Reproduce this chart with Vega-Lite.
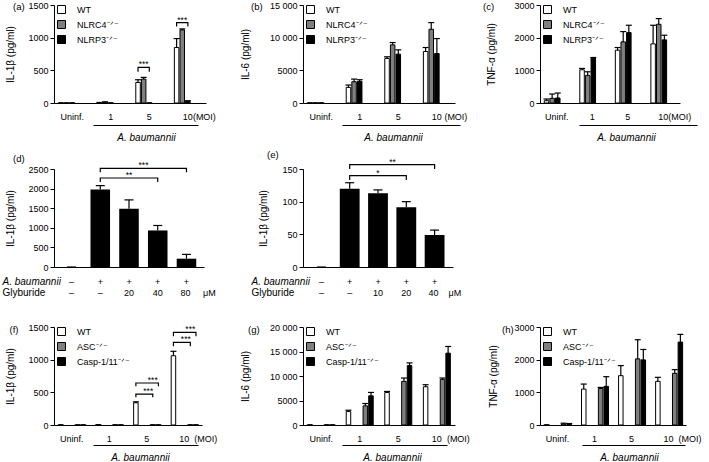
{
  "$schema": "https://vega.github.io/schema/vega-lite/v6.json",
  "background": "white",
  "padding": {"left": 2, "top": 1, "right": 0, "bottom": 0},
  "columns": 3,
  "bounds": "flush",
  "spacing": {"row": 60, "column": 60},
  "resolve": {"scale": {"fill": "independent"}, "legend": {"fill": "independent"}},
  "config": {
    "font": "Liberation Sans",
    "view": {"stroke": null},
    "axis": {"labelFontSize": 9, "labelColor": "black", "titleColor": "black", "titleFontSize": 10, "titleFontWeight": "normal", "domainColor": "black", "domainWidth": 1, "tickColor": "black", "tickWidth": 1, "grid": false},
    "axisY": {"labelOverlap": false, "tickCount": 10},
    "legend": {"symbolType": "square", "symbolSize": 64, "symbolStrokeColor": "black", "symbolStrokeWidth": 1, "labelFontSize": 9, "labelColor": "black", "labelOffset": 11, "rowPadding": 2, "padding": 0},
    "title": {"anchor": "start", "frame": "group", "align": "right", "baseline": "middle", "offset": 0, "fontSize": 9.5, "fontWeight": "normal", "color": "black"}
  },
  "datasets": {
    "a": [
      {"dose": "Uninf.", "genotype": "WT", "mean": 0, "upper": 0},
      {"dose": "Uninf.", "genotype": "NLRC4⁻ᐟ⁻", "mean": 0, "upper": 0},
      {"dose": "Uninf.", "genotype": "NLRP3⁻ᐟ⁻", "mean": 0, "upper": 0},
      {"dose": "1", "genotype": "WT", "mean": 5, "upper": 8},
      {"dose": "1", "genotype": "NLRC4⁻ᐟ⁻", "mean": 10, "upper": 18},
      {"dose": "1", "genotype": "NLRP3⁻ᐟ⁻", "mean": 0, "upper": 0},
      {"dose": "5", "genotype": "WT", "mean": 315, "upper": 356},
      {"dose": "5", "genotype": "NLRC4⁻ᐟ⁻", "mean": 366, "upper": 392},
      {"dose": "5", "genotype": "NLRP3⁻ᐟ⁻", "mean": 0, "upper": 0},
      {"dose": "10", "genotype": "WT", "mean": 849, "upper": 986},
      {"dose": "10", "genotype": "NLRC4⁻ᐟ⁻", "mean": 1119, "upper": 1134},
      {"dose": "10", "genotype": "NLRP3⁻ᐟ⁻", "mean": 25, "upper": 35}
    ],
    "a_br": [
      {"id": 1, "dose": "5", "genotype": "WT", "y": 478, "ord": 1},
      {"id": 1, "dose": "5", "genotype": "WT", "y": 546, "ord": 2},
      {"id": 1, "dose": "5", "genotype": "NLRP3⁻ᐟ⁻", "y": 546, "ord": 3},
      {"id": 1, "dose": "5", "genotype": "NLRP3⁻ᐟ⁻", "y": 478, "ord": 4},
      {"id": 2, "dose": "10", "genotype": "WT", "y": 1170, "ord": 1},
      {"id": 2, "dose": "10", "genotype": "WT", "y": 1230, "ord": 2},
      {"id": 2, "dose": "10", "genotype": "NLRP3⁻ᐟ⁻", "y": 1230, "ord": 3},
      {"id": 2, "dose": "10", "genotype": "NLRP3⁻ᐟ⁻", "y": 1170, "ord": 4}
    ],
    "a_star": [
      {"dose": "5", "genotype": "NLRC4⁻ᐟ⁻", "y": 546, "label": "***"},
      {"dose": "10", "genotype": "NLRC4⁻ᐟ⁻", "y": 1230, "label": "***"}
    ],
    "b": [
      {"dose": "Uninf.", "genotype": "WT", "mean": 0, "upper": 0},
      {"dose": "Uninf.", "genotype": "NLRC4⁻ᐟ⁻", "mean": 0, "upper": 0},
      {"dose": "Uninf.", "genotype": "NLRP3⁻ᐟ⁻", "mean": 0, "upper": 0},
      {"dose": "1", "genotype": "WT", "mean": 2390, "upper": 2746},
      {"dose": "1", "genotype": "NLRC4⁻ᐟ⁻", "mean": 3254, "upper": 3661},
      {"dose": "1", "genotype": "NLRP3⁻ᐟ⁻", "mean": 3305, "upper": 3560},
      {"dose": "5", "genotype": "WT", "mean": 6814, "upper": 7068},
      {"dose": "5", "genotype": "NLRC4⁻ᐟ⁻", "mean": 8898, "upper": 9254},
      {"dose": "5", "genotype": "NLRP3⁻ᐟ⁻", "mean": 7475, "upper": 8136},
      {"dose": "10", "genotype": "WT", "mean": 7881, "upper": 8492},
      {"dose": "10", "genotype": "NLRC4⁻ᐟ⁻", "mean": 11288, "upper": 12305},
      {"dose": "10", "genotype": "NLRP3⁻ᐟ⁻", "mean": 7576, "upper": 9864}
    ],
    "c": [
      {"dose": "Uninf.", "genotype": "WT", "mean": 71, "upper": 122},
      {"dose": "Uninf.", "genotype": "NLRC4⁻ᐟ⁻", "mean": 142, "upper": 275},
      {"dose": "Uninf.", "genotype": "NLRP3⁻ᐟ⁻", "mean": 153, "upper": 305},
      {"dose": "1", "genotype": "WT", "mean": 1017, "upper": 1058},
      {"dose": "1", "genotype": "NLRC4⁻ᐟ⁻", "mean": 844, "upper": 956},
      {"dose": "1", "genotype": "NLRP3⁻ᐟ⁻", "mean": 1373, "upper": 1393},
      {"dose": "5", "genotype": "WT", "mean": 1617, "upper": 1698},
      {"dose": "5", "genotype": "NLRC4⁻ᐟ⁻", "mean": 1871, "upper": 2186},
      {"dose": "5", "genotype": "NLRP3⁻ᐟ⁻", "mean": 2156, "upper": 2380},
      {"dose": "10", "genotype": "WT", "mean": 1810, "upper": 2380},
      {"dose": "10", "genotype": "NLRC4⁻ᐟ⁻", "mean": 2410, "upper": 2583},
      {"dose": "10", "genotype": "NLRP3⁻ᐟ⁻", "mean": 1932, "upper": 2075}
    ],
    "d": [
      {"treat": "ctrl", "mean": 0, "upper": 0},
      {"treat": "0", "mean": 1975, "upper": 2076},
      {"treat": "20", "mean": 1483, "upper": 1712},
      {"treat": "40", "mean": 932, "upper": 1059},
      {"treat": "80", "mean": 212, "upper": 322}
    ],
    "d_br": [
      {"id": 1, "treat": "0", "y": 2416, "ord": 1},
      {"id": 1, "treat": "0", "y": 2518, "ord": 2},
      {"id": 1, "treat": "80", "y": 2518, "ord": 3},
      {"id": 1, "treat": "80", "y": 2416, "ord": 4},
      {"id": 2, "treat": "0", "y": 2168, "ord": 1},
      {"id": 2, "treat": "0", "y": 2270, "ord": 2},
      {"id": 2, "treat": "40", "y": 2270, "ord": 3},
      {"id": 2, "treat": "40", "y": 2168, "ord": 4}
    ],
    "d_s1": [{"treat": "20", "y": 2270, "label": "**"}],
    "d_s2": [{"treat": "20", "y": 2518, "label": "***"}],
    "e": [
      {"treat": "ctrl", "mean": 0, "upper": 0},
      {"treat": "0", "mean": 119.7, "upper": 129},
      {"treat": "10", "mean": 113, "upper": 118},
      {"treat": "20", "mean": 91.4, "upper": 100},
      {"treat": "40", "mean": 48.8, "upper": 56.5}
    ],
    "e_br": [
      {"id": 1, "treat": "0", "y": 150, "ord": 1},
      {"id": 1, "treat": "0", "y": 156.6, "ord": 2},
      {"id": 1, "treat": "40", "y": 156.6, "ord": 3},
      {"id": 1, "treat": "40", "y": 150, "ord": 4},
      {"id": 2, "treat": "0", "y": 133.2, "ord": 1},
      {"id": 2, "treat": "0", "y": 139.8, "ord": 2},
      {"id": 2, "treat": "20", "y": 139.8, "ord": 3},
      {"id": 2, "treat": "20", "y": 133.2, "ord": 4}
    ],
    "e_s1": [{"treat": "10", "y": 139.8, "label": "*"}],
    "e_s2": [{"treat": "10", "y": 156.6, "label": "**"}],
    "f": [
      {"dose": "Uninf.", "genotype": "WT", "mean": 0, "upper": 0},
      {"dose": "Uninf.", "genotype": "ASC⁻ᐟ⁻", "mean": 0, "upper": 0},
      {"dose": "Uninf.", "genotype": "Casp-1/11⁻ᐟ⁻", "mean": 0, "upper": 0},
      {"dose": "1", "genotype": "WT", "mean": 3, "upper": 3},
      {"dose": "1", "genotype": "ASC⁻ᐟ⁻", "mean": 0, "upper": 0},
      {"dose": "1", "genotype": "Casp-1/11⁻ᐟ⁻", "mean": 0, "upper": 0},
      {"dose": "5", "genotype": "WT", "mean": 340, "upper": 355},
      {"dose": "5", "genotype": "ASC⁻ᐟ⁻", "mean": 0, "upper": 0},
      {"dose": "5", "genotype": "Casp-1/11⁻ᐟ⁻", "mean": 0, "upper": 0},
      {"dose": "10", "genotype": "WT", "mean": 1060, "upper": 1128},
      {"dose": "10", "genotype": "ASC⁻ᐟ⁻", "mean": 0, "upper": 0},
      {"dose": "10", "genotype": "Casp-1/11⁻ᐟ⁻", "mean": 0, "upper": 0}
    ],
    "f_br": [
      {"id": 1, "dose": "5", "genotype": "WT", "y": 424, "ord": 1},
      {"id": 1, "dose": "5", "genotype": "WT", "y": 474, "ord": 2},
      {"id": 1, "dose": "5", "genotype": "ASC⁻ᐟ⁻", "y": 474, "ord": 3},
      {"id": 1, "dose": "5", "genotype": "ASC⁻ᐟ⁻", "y": 424, "ord": 4},
      {"id": 2, "dose": "5", "genotype": "WT", "y": 592, "ord": 1},
      {"id": 2, "dose": "5", "genotype": "WT", "y": 643, "ord": 2},
      {"id": 2, "dose": "5", "genotype": "Casp-1/11⁻ᐟ⁻", "y": 643, "ord": 3},
      {"id": 2, "dose": "5", "genotype": "Casp-1/11⁻ᐟ⁻", "y": 592, "ord": 4},
      {"id": 3, "dose": "10", "genotype": "WT", "y": 1205, "ord": 1},
      {"id": 3, "dose": "10", "genotype": "WT", "y": 1266, "ord": 2},
      {"id": 3, "dose": "10", "genotype": "ASC⁻ᐟ⁻", "y": 1266, "ord": 3},
      {"id": 3, "dose": "10", "genotype": "ASC⁻ᐟ⁻", "y": 1205, "ord": 4},
      {"id": 4, "dose": "10", "genotype": "WT", "y": 1358, "ord": 1},
      {"id": 4, "dose": "10", "genotype": "WT", "y": 1419, "ord": 2},
      {"id": 4, "dose": "10", "genotype": "Casp-1/11⁻ᐟ⁻", "y": 1419, "ord": 3},
      {"id": 4, "dose": "10", "genotype": "Casp-1/11⁻ᐟ⁻", "y": 1358, "ord": 4}
    ],
    "f_s1": [
      {"dose": "5", "genotype": "ASC⁻ᐟ⁻", "y": 643, "label": "***"},
      {"dose": "10", "genotype": "ASC⁻ᐟ⁻", "y": 1419, "label": "***"}
    ],
    "f_s2": [
      {"dose": "5", "genotype": "ASC⁻ᐟ⁻", "y": 474, "label": "***"},
      {"dose": "10", "genotype": "ASC⁻ᐟ⁻", "y": 1266, "label": "***"}
    ],
    "g": [
      {"dose": "Uninf.", "genotype": "WT", "mean": 0, "upper": 0},
      {"dose": "Uninf.", "genotype": "ASC⁻ᐟ⁻", "mean": 0, "upper": 0},
      {"dose": "Uninf.", "genotype": "Casp-1/11⁻ᐟ⁻", "mean": 0, "upper": 0},
      {"dose": "1", "genotype": "WT", "mean": 2740, "upper": 3014},
      {"dose": "1", "genotype": "ASC⁻ᐟ⁻", "mean": 3904, "upper": 4384},
      {"dose": "1", "genotype": "Casp-1/11⁻ᐟ⁻", "mean": 5959, "upper": 6644},
      {"dose": "5", "genotype": "WT", "mean": 6644, "upper": 6849},
      {"dose": "5", "genotype": "ASC⁻ᐟ⁻", "mean": 8904, "upper": 9589},
      {"dose": "5", "genotype": "Casp-1/11⁻ᐟ⁻", "mean": 12123, "upper": 12671},
      {"dose": "10", "genotype": "WT", "mean": 7808, "upper": 8219},
      {"dose": "10", "genotype": "ASC⁻ᐟ⁻", "mean": 9315, "upper": 9589},
      {"dose": "10", "genotype": "Casp-1/11⁻ᐟ⁻", "mean": 14658, "upper": 16027}
    ],
    "h": [
      {"dose": "Uninf.", "genotype": "WT", "mean": 0, "upper": 0},
      {"dose": "Uninf.", "genotype": "ASC⁻ᐟ⁻", "mean": 30, "upper": 55},
      {"dose": "Uninf.", "genotype": "Casp-1/11⁻ᐟ⁻", "mean": 20, "upper": 45},
      {"dose": "1", "genotype": "WT", "mean": 1099, "upper": 1253},
      {"dose": "1", "genotype": "ASC⁻ᐟ⁻", "mean": 1120, "upper": 1150},
      {"dose": "1", "genotype": "Casp-1/11⁻ᐟ⁻", "mean": 1182, "upper": 1479},
      {"dose": "5", "genotype": "WT", "mean": 1510, "upper": 1818},
      {"dose": "5", "genotype": "ASC⁻ᐟ⁻", "mean": 2024, "upper": 2610},
      {"dose": "5", "genotype": "Casp-1/11⁻ᐟ⁻", "mean": 1993, "upper": 2312},
      {"dose": "10", "genotype": "WT", "mean": 1336, "upper": 1459},
      {"dose": "10", "genotype": "ASC⁻ᐟ⁻", "mean": 1582, "upper": 1695},
      {"dose": "10", "genotype": "Casp-1/11⁻ᐟ⁻", "mean": 2538, "upper": 2774}
    ]
  },
  "concat": [
    {
      "width": 189, "height": 98,
      "title": {"text": "(a)", "dx": -41, "dy": 14},
      "resolve": {"scale": {"x": "independent"}, "axis": {"x": "independent"}},
      "layer": [
        {"layer": [
          {"data": {"name": "a"}, "mark": {"type": "bar", "stroke": "black", "strokeWidth": 1},
           "encoding": {
             "x": {"field": "dose", "type": "nominal", "title": null, "scale": {"domain": ["Uninf.", "1", "5", "10"], "range": [0, 152], "paddingInner": 0.3, "paddingOuter": 0.12},
                   "axis": {"ticks": false, "tickSize": 0, "labelPadding": 13, "labelBaseline": "middle", "labelAngle": 0, "labelOverlap": false, "labelExpr": "datum.value == '10' ? '10(MOI)' : datum.value", "labelAlign": {"condition": {"test": "datum.value == '10'", "value": "left"}, "value": "center"}, "labelOffset": {"condition": {"test": "datum.value == '10'", "value": -5}, "value": 0}}},
             "xOffset": {"field": "genotype", "type": "nominal", "scale": {"domain": ["WT", "NLRC4⁻ᐟ⁻", "NLRP3⁻ᐟ⁻"], "paddingInner": 0.2}},
             "y": {"field": "mean", "type": "quantitative", "title": "IL-1β (pg/ml)", "scale": {"domain": [0, 1500], "nice": false}, "axis": {"values": [0, 500, 1000, 1500], "tickCount": 10, "format": "d", "labelOverlap": false, "tickSize": 4, "labelPadding": 2, "titleX": -44, "titleY": 49, "titleBaseline": "middle", "titleAlign": "center"}},
             "fill": {"field": "genotype", "type": "nominal", "scale": {"domain": ["WT", "NLRC4⁻ᐟ⁻", "NLRP3⁻ᐟ⁻"], "range": ["white", "#7f7f7f", "black"]}, "legend": {"title": null, "orient": "none", "legendX": 3, "legendY": 0}}
           }},
          {"data": {"name": "a"}, "mark": {"type": "rule", "color": "black", "strokeWidth": 1.2},
           "encoding": {
             "x": {"field": "dose", "type": "nominal", "title": null, "scale": {"domain": ["Uninf.", "1", "5", "10"], "range": [0, 152], "paddingInner": 0.3, "paddingOuter": 0.12}},
             "xOffset": {"field": "genotype", "type": "nominal", "scale": {"domain": ["WT", "NLRC4⁻ᐟ⁻", "NLRP3⁻ᐟ⁻"], "paddingInner": 0.2}},
             "y": {"field": "mean", "type": "quantitative", "title": "IL-1β (pg/ml)", "scale": {"domain": [0, 1500], "nice": false}},
             "y2": {"field": "upper"}
           }},
          {"data": {"name": "a"}, "mark": {"type": "tick", "orient": "horizontal", "color": "black", "opacity": 1, "thickness": 1.2, "size": 6},
           "encoding": {
             "x": {"field": "dose", "type": "nominal", "title": null, "scale": {"domain": ["Uninf.", "1", "5", "10"], "range": [0, 152], "paddingInner": 0.3, "paddingOuter": 0.12}},
             "xOffset": {"field": "genotype", "type": "nominal", "scale": {"domain": ["WT", "NLRC4⁻ᐟ⁻", "NLRP3⁻ᐟ⁻"], "paddingInner": 0.2}},
             "y": {"field": "upper", "type": "quantitative", "title": "IL-1β (pg/ml)", "scale": {"domain": [0, 1500], "nice": false}}
           }},
          {"data": {"name": "a_br"}, "mark": {"type": "line", "color": "black", "strokeWidth": 1.2},
           "encoding": {
             "x": {"field": "dose", "type": "nominal", "title": null, "scale": {"domain": ["Uninf.", "1", "5", "10"], "range": [0, 152], "paddingInner": 0.3, "paddingOuter": 0.12}},
             "xOffset": {"field": "genotype", "type": "nominal", "scale": {"domain": ["WT", "NLRC4⁻ᐟ⁻", "NLRP3⁻ᐟ⁻"], "paddingInner": 0.2}},
             "y": {"field": "y", "type": "quantitative", "title": "IL-1β (pg/ml)", "scale": {"domain": [0, 1500], "nice": false}},
             "detail": {"field": "id", "type": "nominal"},
             "order": {"field": "ord", "type": "quantitative"}
           }},
          {"data": {"name": "a_star"}, "mark": {"type": "text", "fontSize": 8.5, "baseline": "alphabetic", "color": "black"},
           "encoding": {
             "x": {"field": "dose", "type": "nominal", "title": null, "scale": {"domain": ["Uninf.", "1", "5", "10"], "range": [0, 152], "paddingInner": 0.3, "paddingOuter": 0.12}},
             "xOffset": {"field": "genotype", "type": "nominal", "scale": {"domain": ["WT", "NLRC4⁻ᐟ⁻", "NLRP3⁻ᐟ⁻"], "paddingInner": 0.2}},
             "y": {"field": "y", "type": "quantitative", "title": "IL-1β (pg/ml)", "scale": {"domain": [0, 1500], "nice": false}},
             "text": {"field": "label"}
           }}
        ]},
        {"data": {"values": [{"k": "1"}, {"k": "10"}]}, "mark": {"type": "tick", "opacity": 0},
         "encoding": {"x": {"field": "k", "type": "nominal", "title": "A. baumannii", "scale": {"type": "point", "domain": ["1", "10"], "range": [39, 144]},
           "axis": {"orient": "bottom", "offset": 22, "domain": true, "ticks": false, "labels": false, "titleFontStyle": "italic", "titleX": 92, "titleY": 12, "titleBaseline": "middle", "titleAlign": "center"}}}}
      ]
    },
    {
      "width": 177, "height": 98,
      "title": {"text": "(b)", "dx": -52, "dy": 14},
      "resolve": {"scale": {"x": "independent"}, "axis": {"x": "independent"}},
      "layer": [
        {"layer": [
          {"data": {"name": "b"}, "mark": {"type": "bar", "stroke": "black", "strokeWidth": 1},
           "encoding": {
             "x": {"field": "dose", "type": "nominal", "title": null, "scale": {"domain": ["Uninf.", "1", "5", "10"], "range": [0, 152], "paddingInner": 0.3, "paddingOuter": 0.12},
                   "axis": {"ticks": false, "tickSize": 0, "labelPadding": 13, "labelBaseline": "middle", "labelAngle": 0, "labelOverlap": false, "labelExpr": "datum.value == '10' ? '10 (MOI)' : datum.value", "labelAlign": {"condition": {"test": "datum.value == '10'", "value": "left"}, "value": "center"}, "labelOffset": {"condition": {"test": "datum.value == '10'", "value": -5}, "value": 0}}},
             "xOffset": {"field": "genotype", "type": "nominal", "scale": {"domain": ["WT", "NLRC4⁻ᐟ⁻", "NLRP3⁻ᐟ⁻"], "paddingInner": 0.2}},
             "y": {"field": "mean", "type": "quantitative", "title": "IL-6 (pg/ml)", "scale": {"domain": [0, 15000], "nice": false}, "axis": {"values": [0, 5000, 10000, 15000], "tickCount": 10, "labelOverlap": false, "labelExpr": "datum.value >= 10000 ? replace(format(datum.value, ','), ',', ' ') : format(datum.value, 'd')", "tickSize": 4, "labelPadding": 2, "titleX": -58, "titleY": 49, "titleBaseline": "middle", "titleAlign": "center"}},
             "fill": {"field": "genotype", "type": "nominal", "scale": {"domain": ["WT", "NLRC4⁻ᐟ⁻", "NLRP3⁻ᐟ⁻"], "range": ["white", "#7f7f7f", "black"]}, "legend": {"title": null, "orient": "none", "legendX": 3, "legendY": 0}}
           }},
          {"data": {"name": "b"}, "mark": {"type": "rule", "color": "black", "strokeWidth": 1.2},
           "encoding": {
             "x": {"field": "dose", "type": "nominal", "title": null, "scale": {"domain": ["Uninf.", "1", "5", "10"], "range": [0, 152], "paddingInner": 0.3, "paddingOuter": 0.12}},
             "xOffset": {"field": "genotype", "type": "nominal", "scale": {"domain": ["WT", "NLRC4⁻ᐟ⁻", "NLRP3⁻ᐟ⁻"], "paddingInner": 0.2}},
             "y": {"field": "mean", "type": "quantitative", "title": "IL-6 (pg/ml)", "scale": {"domain": [0, 15000], "nice": false}},
             "y2": {"field": "upper"}
           }},
          {"data": {"name": "b"}, "mark": {"type": "tick", "orient": "horizontal", "color": "black", "opacity": 1, "thickness": 1.2, "size": 6},
           "encoding": {
             "x": {"field": "dose", "type": "nominal", "title": null, "scale": {"domain": ["Uninf.", "1", "5", "10"], "range": [0, 152], "paddingInner": 0.3, "paddingOuter": 0.12}},
             "xOffset": {"field": "genotype", "type": "nominal", "scale": {"domain": ["WT", "NLRC4⁻ᐟ⁻", "NLRP3⁻ᐟ⁻"], "paddingInner": 0.2}},
             "y": {"field": "upper", "type": "quantitative", "title": "IL-6 (pg/ml)", "scale": {"domain": [0, 15000], "nice": false}}
           }}
        ]},
        {"data": {"values": [{"k": "1"}, {"k": "10"}]}, "mark": {"type": "tick", "opacity": 0},
         "encoding": {"x": {"field": "k", "type": "nominal", "title": "A. baumannii", "scale": {"type": "point", "domain": ["1", "10"], "range": [39, 157]},
           "axis": {"orient": "bottom", "offset": 22, "domain": true, "ticks": false, "labels": false, "titleFontStyle": "italic", "titleX": 90, "titleY": 12, "titleBaseline": "middle", "titleAlign": "center"}}}}
      ]
    },
    {
      "width": 150, "height": 98,
      "title": {"text": "(c)", "dx": -57, "dy": 14},
      "resolve": {"scale": {"x": "independent"}, "axis": {"x": "independent"}},
      "layer": [
        {"layer": [
          {"data": {"name": "c"}, "mark": {"type": "bar", "stroke": "black", "strokeWidth": 1},
           "encoding": {
             "x": {"field": "dose", "type": "nominal", "title": null, "scale": {"domain": ["Uninf.", "1", "5", "10"], "range": [0, 140], "paddingInner": 0.3, "paddingOuter": 0.12},
                   "axis": {"ticks": false, "tickSize": 0, "labelPadding": 13, "labelBaseline": "middle", "labelAngle": 0, "labelOverlap": false, "labelExpr": "datum.value == '10' ? '10(MOI)' : datum.value", "labelAlign": {"condition": {"test": "datum.value == '10'", "value": "left"}, "value": "center"}, "labelOffset": {"condition": {"test": "datum.value == '10'", "value": -5}, "value": 0}}},
             "xOffset": {"field": "genotype", "type": "nominal", "scale": {"domain": ["WT", "NLRC4⁻ᐟ⁻", "NLRP3⁻ᐟ⁻"], "paddingInner": 0.2}},
             "y": {"field": "mean", "type": "quantitative", "title": "TNF-α (pg/ml)", "scale": {"domain": [0, 3000], "nice": false}, "axis": {"values": [0, 1000, 2000, 3000], "tickCount": 10, "format": "d", "labelOverlap": false, "tickSize": 4, "labelPadding": 2, "titleX": -49, "titleY": 49, "titleBaseline": "middle", "titleAlign": "center"}},
             "fill": {"field": "genotype", "type": "nominal", "scale": {"domain": ["WT", "NLRC4⁻ᐟ⁻", "NLRP3⁻ᐟ⁻"], "range": ["white", "#7f7f7f", "black"]}, "legend": {"title": null, "orient": "none", "legendX": 3, "legendY": 0}}
           }},
          {"data": {"name": "c"}, "mark": {"type": "rule", "color": "black", "strokeWidth": 1.2},
           "encoding": {
             "x": {"field": "dose", "type": "nominal", "title": null, "scale": {"domain": ["Uninf.", "1", "5", "10"], "range": [0, 140], "paddingInner": 0.3, "paddingOuter": 0.12}},
             "xOffset": {"field": "genotype", "type": "nominal", "scale": {"domain": ["WT", "NLRC4⁻ᐟ⁻", "NLRP3⁻ᐟ⁻"], "paddingInner": 0.2}},
             "y": {"field": "mean", "type": "quantitative", "title": "TNF-α (pg/ml)", "scale": {"domain": [0, 3000], "nice": false}},
             "y2": {"field": "upper"}
           }},
          {"data": {"name": "c"}, "mark": {"type": "tick", "orient": "horizontal", "color": "black", "opacity": 1, "thickness": 1.2, "size": 6},
           "encoding": {
             "x": {"field": "dose", "type": "nominal", "title": null, "scale": {"domain": ["Uninf.", "1", "5", "10"], "range": [0, 140], "paddingInner": 0.3, "paddingOuter": 0.12}},
             "xOffset": {"field": "genotype", "type": "nominal", "scale": {"domain": ["WT", "NLRC4⁻ᐟ⁻", "NLRP3⁻ᐟ⁻"], "paddingInner": 0.2}},
             "y": {"field": "upper", "type": "quantitative", "title": "TNF-α (pg/ml)", "scale": {"domain": [0, 3000], "nice": false}}
           }}
        ]},
        {"data": {"values": [{"k": "1"}, {"k": "10"}]}, "mark": {"type": "tick", "opacity": 0},
         "encoding": {"x": {"field": "k", "type": "nominal", "title": "A. baumannii", "scale": {"type": "point", "domain": ["1", "10"], "range": [39, 157]},
           "axis": {"orient": "bottom", "offset": 22, "domain": true, "ticks": false, "labels": false, "titleFontStyle": "italic", "titleX": 86, "titleY": 12, "titleBaseline": "middle", "titleAlign": "center"}}}}
      ]
    },
    {
      "width": 189, "height": 104,
      "title": {"text": "(d)", "dx": -41, "dy": 6},
      "resolve": {"scale": {"x": "independent"}, "axis": {"x": "independent"}},
      "layer": [
        {"layer": [
          {"data": {"name": "d"}, "mark": {"type": "bar", "color": "black"},
           "encoding": {
             "x": {"field": "treat", "type": "nominal", "title": "A. baumannii", "scale": {"domain": ["ctrl", "0", "20", "40", "80"], "range": [0, 150], "paddingInner": 0.32, "paddingOuter": 0.27},
                   "axis": {"ticks": false, "tickSize": 0, "labelPadding": 14, "labelBaseline": "middle", "labelAngle": 0, "labelOverlap": false, "labelExpr": "datum.value == 'ctrl' ? '–' : '+'", "titleFontStyle": "italic", "titleAngle": 0, "titleAlign": "left", "titleBaseline": "middle", "titleX": -52, "titleY": 14}},
             "y": {"field": "mean", "type": "quantitative", "title": "IL-1β (pg/ml)", "scale": {"domain": [0, 2500], "nice": false, "range": [104, 6]}, "axis": {"values": [0, 500, 1000, 1500, 2000, 2500], "tickCount": 10, "format": "d", "labelOverlap": false, "tickSize": 4, "labelPadding": 2, "titleX": -44, "titleY": 55, "titleBaseline": "middle", "titleAlign": "center"}}
           }},
          {"data": {"name": "d"}, "mark": {"type": "rule", "color": "black", "strokeWidth": 1.2},
           "encoding": {
             "x": {"field": "treat", "type": "nominal", "title": "A. baumannii", "scale": {"domain": ["ctrl", "0", "20", "40", "80"], "range": [0, 150], "paddingInner": 0.32, "paddingOuter": 0.27}},
             "y": {"field": "mean", "type": "quantitative", "title": "IL-1β (pg/ml)", "scale": {"domain": [0, 2500], "nice": false, "range": [104, 6]}},
             "y2": {"field": "upper"}
           }},
          {"data": {"name": "d"}, "mark": {"type": "tick", "orient": "horizontal", "color": "black", "opacity": 1, "thickness": 1.2, "size": 9},
           "encoding": {
             "x": {"field": "treat", "type": "nominal", "title": "A. baumannii", "scale": {"domain": ["ctrl", "0", "20", "40", "80"], "range": [0, 150], "paddingInner": 0.32, "paddingOuter": 0.27}},
             "y": {"field": "upper", "type": "quantitative", "title": "IL-1β (pg/ml)", "scale": {"domain": [0, 2500], "nice": false, "range": [104, 6]}}
           }},
          {"data": {"name": "d_br"}, "mark": {"type": "line", "color": "black", "strokeWidth": 1.2},
           "encoding": {
             "x": {"field": "treat", "type": "nominal", "title": "A. baumannii", "scale": {"domain": ["ctrl", "0", "20", "40", "80"], "range": [0, 150], "paddingInner": 0.32, "paddingOuter": 0.27}},
             "y": {"field": "y", "type": "quantitative", "title": "IL-1β (pg/ml)", "scale": {"domain": [0, 2500], "nice": false, "range": [104, 6]}},
             "detail": {"field": "id", "type": "nominal"},
             "order": {"field": "ord", "type": "quantitative"}
           }},
          {"data": {"name": "d_s1"}, "mark": {"type": "text", "fontSize": 8.5, "baseline": "alphabetic", "color": "black"},
           "encoding": {
             "x": {"field": "treat", "type": "nominal", "title": "A. baumannii", "scale": {"domain": ["ctrl", "0", "20", "40", "80"], "range": [0, 150], "paddingInner": 0.32, "paddingOuter": 0.27}},
             "y": {"field": "y", "type": "quantitative", "title": "IL-1β (pg/ml)", "scale": {"domain": [0, 2500], "nice": false, "range": [104, 6]}},
             "text": {"field": "label"}
           }},
          {"data": {"name": "d_s2"}, "mark": {"type": "text", "fontSize": 8.5, "baseline": "alphabetic", "color": "black", "dx": 14.5},
           "encoding": {
             "x": {"field": "treat", "type": "nominal", "title": "A. baumannii", "scale": {"domain": ["ctrl", "0", "20", "40", "80"], "range": [0, 150], "paddingInner": 0.32, "paddingOuter": 0.27}},
             "y": {"field": "y", "type": "quantitative", "title": "IL-1β (pg/ml)", "scale": {"domain": [0, 2500], "nice": false, "range": [104, 6]}},
             "text": {"field": "label"}
           }}
        ]},
        {"data": {"name": "d"}, "mark": {"type": "tick", "opacity": 0},
         "encoding": {"x": {"field": "treat", "type": "nominal", "title": "Glyburide", "scale": {"domain": ["ctrl", "0", "20", "40", "80"], "range": [0, 150], "paddingInner": 0.32, "paddingOuter": 0.27},
           "axis": {"orient": "bottom", "offset": 11, "domain": false, "ticks": false, "tickSize": 0, "labelPadding": 14, "labelBaseline": "middle", "labelAngle": 0, "labelOverlap": false, "labelExpr": "datum.value == 'ctrl' || datum.value == '0' ? '–' : datum.value == '80' ? '80\u00a0\u00a0\u00a0\u00a0\u00a0μM' : datum.value", "labelAlign": {"condition": {"test": "datum.value == '80'", "value": "left"}, "value": "center"}, "labelOffset": {"condition": {"test": "datum.value == '80'", "value": -6}, "value": 0}, "titleAngle": 0, "titleAlign": "left", "titleBaseline": "middle", "titleX": -52, "titleY": 14}}}}
      ]
    },
    {
      "width": 177, "height": 104,
      "title": {"text": "(e)", "dx": -36, "dy": 6},
      "resolve": {"scale": {"x": "independent"}, "axis": {"x": "independent"}},
      "layer": [
        {"layer": [
          {"data": {"name": "e"}, "mark": {"type": "bar", "color": "black"},
           "encoding": {
             "x": {"field": "treat", "type": "nominal", "title": "A. baumannii", "scale": {"domain": ["ctrl", "0", "10", "20", "40"], "range": [0, 150], "paddingInner": 0.3, "paddingOuter": 0.3},
                   "axis": {"ticks": false, "tickSize": 0, "labelPadding": 14, "labelBaseline": "middle", "labelAngle": 0, "labelOverlap": false, "labelExpr": "datum.value == 'ctrl' ? '–' : '+'", "titleFontStyle": "italic", "titleAngle": 0, "titleAlign": "left", "titleBaseline": "middle", "titleX": -52, "titleY": 14}},
             "y": {"field": "mean", "type": "quantitative", "title": "IL-1β (pg/ml)", "scale": {"domain": [0, 150], "nice": false, "range": [104, 6]}, "axis": {"values": [0, 50, 100, 150], "tickCount": 10, "format": "d", "labelOverlap": false, "tickSize": 4, "labelPadding": 2, "titleX": -40, "titleY": 55, "titleBaseline": "middle", "titleAlign": "center"}}
           }},
          {"data": {"name": "e"}, "mark": {"type": "rule", "color": "black", "strokeWidth": 1.2},
           "encoding": {
             "x": {"field": "treat", "type": "nominal", "title": "A. baumannii", "scale": {"domain": ["ctrl", "0", "10", "20", "40"], "range": [0, 150], "paddingInner": 0.3, "paddingOuter": 0.3}},
             "y": {"field": "mean", "type": "quantitative", "title": "IL-1β (pg/ml)", "scale": {"domain": [0, 150], "nice": false, "range": [104, 6]}},
             "y2": {"field": "upper"}
           }},
          {"data": {"name": "e"}, "mark": {"type": "tick", "orient": "horizontal", "color": "black", "opacity": 1, "thickness": 1.2, "size": 9},
           "encoding": {
             "x": {"field": "treat", "type": "nominal", "title": "A. baumannii", "scale": {"domain": ["ctrl", "0", "10", "20", "40"], "range": [0, 150], "paddingInner": 0.3, "paddingOuter": 0.3}},
             "y": {"field": "upper", "type": "quantitative", "title": "IL-1β (pg/ml)", "scale": {"domain": [0, 150], "nice": false, "range": [104, 6]}}
           }},
          {"data": {"name": "e_br"}, "mark": {"type": "line", "color": "black", "strokeWidth": 1.2},
           "encoding": {
             "x": {"field": "treat", "type": "nominal", "title": "A. baumannii", "scale": {"domain": ["ctrl", "0", "10", "20", "40"], "range": [0, 150], "paddingInner": 0.3, "paddingOuter": 0.3}},
             "y": {"field": "y", "type": "quantitative", "title": "IL-1β (pg/ml)", "scale": {"domain": [0, 150], "nice": false, "range": [104, 6]}},
             "detail": {"field": "id", "type": "nominal"},
             "order": {"field": "ord", "type": "quantitative"}
           }},
          {"data": {"name": "e_s1"}, "mark": {"type": "text", "fontSize": 8.5, "baseline": "alphabetic", "color": "black"},
           "encoding": {
             "x": {"field": "treat", "type": "nominal", "title": "A. baumannii", "scale": {"domain": ["ctrl", "0", "10", "20", "40"], "range": [0, 150], "paddingInner": 0.3, "paddingOuter": 0.3}},
             "y": {"field": "y", "type": "quantitative", "title": "IL-1β (pg/ml)", "scale": {"domain": [0, 150], "nice": false, "range": [104, 6]}},
             "text": {"field": "label"}
           }},
          {"data": {"name": "e_s2"}, "mark": {"type": "text", "fontSize": 8.5, "baseline": "alphabetic", "color": "black", "dx": 14.5},
           "encoding": {
             "x": {"field": "treat", "type": "nominal", "title": "A. baumannii", "scale": {"domain": ["ctrl", "0", "10", "20", "40"], "range": [0, 150], "paddingInner": 0.3, "paddingOuter": 0.3}},
             "y": {"field": "y", "type": "quantitative", "title": "IL-1β (pg/ml)", "scale": {"domain": [0, 150], "nice": false, "range": [104, 6]}},
             "text": {"field": "label"}
           }}
        ]},
        {"data": {"name": "e"}, "mark": {"type": "tick", "opacity": 0},
         "encoding": {"x": {"field": "treat", "type": "nominal", "title": "Glyburide", "scale": {"domain": ["ctrl", "0", "10", "20", "40"], "range": [0, 150], "paddingInner": 0.3, "paddingOuter": 0.3},
           "axis": {"orient": "bottom", "offset": 11, "domain": false, "ticks": false, "tickSize": 0, "labelPadding": 14, "labelBaseline": "middle", "labelAngle": 0, "labelOverlap": false, "labelExpr": "datum.value == 'ctrl' || datum.value == '0' ? '–' : datum.value == '40' ? '40\u00a0\u00a0\u00a0\u00a0μM' : datum.value", "labelAlign": {"condition": {"test": "datum.value == '40'", "value": "left"}, "value": "center"}, "labelOffset": {"condition": {"test": "datum.value == '40'", "value": -6}, "value": 0}, "titleAngle": 0, "titleAlign": "left", "titleBaseline": "middle", "titleX": -52, "titleY": 14}}}}
      ]
    },
    {
      "width": 100, "height": 98,
      "data": {"values": [{"k": 1}]},
      "mark": {"type": "point", "opacity": 0}
    },
    {
      "width": 189, "height": 98,
      "title": {"text": "(f)", "dx": -44.5, "dy": 15},
      "resolve": {"scale": {"x": "independent"}, "axis": {"x": "independent"}},
      "layer": [
        {"layer": [
          {"data": {"name": "f"}, "mark": {"type": "bar", "stroke": "black", "strokeWidth": 1},
           "encoding": {
             "x": {"field": "dose", "type": "nominal", "title": null, "scale": {"domain": ["Uninf.", "1", "5", "10"], "range": [0, 148], "paddingInner": 0.3, "paddingOuter": 0.12},
                   "axis": {"ticks": false, "tickSize": 0, "labelPadding": 13, "labelBaseline": "middle", "labelAngle": 0, "labelOverlap": false, "labelExpr": "datum.value == '10' ? '10\u00a0\u00a0(MOI)' : datum.value", "labelAlign": {"condition": {"test": "datum.value == '10'", "value": "left"}, "value": "center"}, "labelOffset": {"condition": {"test": "datum.value == '10'", "value": -5}, "value": 0}}},
             "xOffset": {"field": "genotype", "type": "nominal", "scale": {"domain": ["WT", "ASC⁻ᐟ⁻", "Casp-1/11⁻ᐟ⁻"], "paddingInner": 0.2}},
             "y": {"field": "mean", "type": "quantitative", "title": "IL-1β (pg/ml)", "scale": {"domain": [0, 1500], "nice": false}, "axis": {"values": [0, 500, 1000, 1500], "tickCount": 10, "format": "d", "labelOverlap": false, "tickSize": 4, "labelPadding": 2, "titleX": -44, "titleY": 49, "titleBaseline": "middle", "titleAlign": "center"}},
             "fill": {"field": "genotype", "type": "nominal", "scale": {"domain": ["WT", "ASC⁻ᐟ⁻", "Casp-1/11⁻ᐟ⁻"], "range": ["white", "#7f7f7f", "black"]}, "legend": {"title": null, "orient": "none", "legendX": 3, "legendY": 0}}
           }},
          {"data": {"name": "f"}, "mark": {"type": "rule", "color": "black", "strokeWidth": 1.2},
           "encoding": {
             "x": {"field": "dose", "type": "nominal", "title": null, "scale": {"domain": ["Uninf.", "1", "5", "10"], "range": [0, 148], "paddingInner": 0.3, "paddingOuter": 0.12}},
             "xOffset": {"field": "genotype", "type": "nominal", "scale": {"domain": ["WT", "ASC⁻ᐟ⁻", "Casp-1/11⁻ᐟ⁻"], "paddingInner": 0.2}},
             "y": {"field": "mean", "type": "quantitative", "title": "IL-1β (pg/ml)", "scale": {"domain": [0, 1500], "nice": false}},
             "y2": {"field": "upper"}
           }},
          {"data": {"name": "f"}, "mark": {"type": "tick", "orient": "horizontal", "color": "black", "opacity": 1, "thickness": 1.2, "size": 6},
           "encoding": {
             "x": {"field": "dose", "type": "nominal", "title": null, "scale": {"domain": ["Uninf.", "1", "5", "10"], "range": [0, 148], "paddingInner": 0.3, "paddingOuter": 0.12}},
             "xOffset": {"field": "genotype", "type": "nominal", "scale": {"domain": ["WT", "ASC⁻ᐟ⁻", "Casp-1/11⁻ᐟ⁻"], "paddingInner": 0.2}},
             "y": {"field": "upper", "type": "quantitative", "title": "IL-1β (pg/ml)", "scale": {"domain": [0, 1500], "nice": false}}
           }},
          {"data": {"name": "f_br"}, "mark": {"type": "line", "color": "black", "strokeWidth": 1.2},
           "encoding": {
             "x": {"field": "dose", "type": "nominal", "title": null, "scale": {"domain": ["Uninf.", "1", "5", "10"], "range": [0, 148], "paddingInner": 0.3, "paddingOuter": 0.12}},
             "xOffset": {"field": "genotype", "type": "nominal", "scale": {"domain": ["WT", "ASC⁻ᐟ⁻", "Casp-1/11⁻ᐟ⁻"], "paddingInner": 0.2}},
             "y": {"field": "y", "type": "quantitative", "title": "IL-1β (pg/ml)", "scale": {"domain": [0, 1500], "nice": false}},
             "detail": {"field": "id", "type": "nominal"},
             "order": {"field": "ord", "type": "quantitative"}
           }},
          {"data": {"name": "f_s1"}, "mark": {"type": "text", "fontSize": 8.5, "baseline": "alphabetic", "color": "black"},
           "encoding": {
             "x": {"field": "dose", "type": "nominal", "title": null, "scale": {"domain": ["Uninf.", "1", "5", "10"], "range": [0, 148], "paddingInner": 0.3, "paddingOuter": 0.12}},
             "xOffset": {"field": "genotype", "type": "nominal", "scale": {"domain": ["WT", "ASC⁻ᐟ⁻", "Casp-1/11⁻ᐟ⁻"], "paddingInner": 0.2}},
             "y": {"field": "y", "type": "quantitative", "title": "IL-1β (pg/ml)", "scale": {"domain": [0, 1500], "nice": false}},
             "text": {"field": "label"}
           }},
          {"data": {"name": "f_s2"}, "mark": {"type": "text", "fontSize": 8.5, "baseline": "alphabetic", "color": "black", "dx": -4.5},
           "encoding": {
             "x": {"field": "dose", "type": "nominal", "title": null, "scale": {"domain": ["Uninf.", "1", "5", "10"], "range": [0, 148], "paddingInner": 0.3, "paddingOuter": 0.12}},
             "xOffset": {"field": "genotype", "type": "nominal", "scale": {"domain": ["WT", "ASC⁻ᐟ⁻", "Casp-1/11⁻ᐟ⁻"], "paddingInner": 0.2}},
             "y": {"field": "y", "type": "quantitative", "title": "IL-1β (pg/ml)", "scale": {"domain": [0, 1500], "nice": false}},
             "text": {"field": "label"}
           }}
        ]},
        {"data": {"values": [{"k": "1"}, {"k": "10"}]}, "mark": {"type": "tick", "opacity": 0},
         "encoding": {"x": {"field": "k", "type": "nominal", "title": "A. baumannii", "scale": {"type": "point", "domain": ["1", "10"], "range": [39, 144]},
           "axis": {"orient": "bottom", "offset": 20, "domain": true, "ticks": false, "labels": false, "titleFontStyle": "italic", "titleX": 86, "titleY": 12, "titleBaseline": "middle", "titleAlign": "center"}}}}
      ]
    },
    {
      "width": 177, "height": 98,
      "title": {"text": "(g)", "dx": -55, "dy": 15},
      "resolve": {"scale": {"x": "independent"}, "axis": {"x": "independent"}},
      "layer": [
        {"layer": [
          {"data": {"name": "g"}, "mark": {"type": "bar", "stroke": "black", "strokeWidth": 1},
           "encoding": {
             "x": {"field": "dose", "type": "nominal", "title": null, "scale": {"domain": ["Uninf.", "1", "5", "10"], "range": [0, 152], "paddingInner": 0.3, "paddingOuter": 0.12},
                   "axis": {"ticks": false, "tickSize": 0, "labelPadding": 13, "labelBaseline": "middle", "labelAngle": 0, "labelOverlap": false, "labelExpr": "datum.value == '10' ? '10\u00a0\u00a0(MOI)' : datum.value", "labelAlign": {"condition": {"test": "datum.value == '10'", "value": "left"}, "value": "center"}, "labelOffset": {"condition": {"test": "datum.value == '10'", "value": -5}, "value": 0}}},
             "xOffset": {"field": "genotype", "type": "nominal", "scale": {"domain": ["WT", "ASC⁻ᐟ⁻", "Casp-1/11⁻ᐟ⁻"], "paddingInner": 0.2}},
             "y": {"field": "mean", "type": "quantitative", "title": "IL-6 (pg/ml)", "scale": {"domain": [0, 20000], "nice": false}, "axis": {"values": [0, 5000, 10000, 15000, 20000], "tickCount": 10, "labelOverlap": false, "labelExpr": "datum.value >= 10000 ? replace(format(datum.value, ','), ',', ' ') : format(datum.value, 'd')", "tickSize": 4, "labelPadding": 2, "titleX": -58, "titleY": 49, "titleBaseline": "middle", "titleAlign": "center"}},
             "fill": {"field": "genotype", "type": "nominal", "scale": {"domain": ["WT", "ASC⁻ᐟ⁻", "Casp-1/11⁻ᐟ⁻"], "range": ["white", "#7f7f7f", "black"]}, "legend": {"title": null, "orient": "none", "legendX": 3, "legendY": 0}}
           }},
          {"data": {"name": "g"}, "mark": {"type": "rule", "color": "black", "strokeWidth": 1.2},
           "encoding": {
             "x": {"field": "dose", "type": "nominal", "title": null, "scale": {"domain": ["Uninf.", "1", "5", "10"], "range": [0, 152], "paddingInner": 0.3, "paddingOuter": 0.12}},
             "xOffset": {"field": "genotype", "type": "nominal", "scale": {"domain": ["WT", "ASC⁻ᐟ⁻", "Casp-1/11⁻ᐟ⁻"], "paddingInner": 0.2}},
             "y": {"field": "mean", "type": "quantitative", "title": "IL-6 (pg/ml)", "scale": {"domain": [0, 20000], "nice": false}},
             "y2": {"field": "upper"}
           }},
          {"data": {"name": "g"}, "mark": {"type": "tick", "orient": "horizontal", "color": "black", "opacity": 1, "thickness": 1.2, "size": 6},
           "encoding": {
             "x": {"field": "dose", "type": "nominal", "title": null, "scale": {"domain": ["Uninf.", "1", "5", "10"], "range": [0, 152], "paddingInner": 0.3, "paddingOuter": 0.12}},
             "xOffset": {"field": "genotype", "type": "nominal", "scale": {"domain": ["WT", "ASC⁻ᐟ⁻", "Casp-1/11⁻ᐟ⁻"], "paddingInner": 0.2}},
             "y": {"field": "upper", "type": "quantitative", "title": "IL-6 (pg/ml)", "scale": {"domain": [0, 20000], "nice": false}}
           }}
        ]},
        {"data": {"values": [{"k": "1"}, {"k": "10"}]}, "mark": {"type": "tick", "opacity": 0},
         "encoding": {"x": {"field": "k", "type": "nominal", "title": "A. baumannii", "scale": {"type": "point", "domain": ["1", "10"], "range": [39, 144]},
           "axis": {"orient": "bottom", "offset": 20, "domain": true, "ticks": false, "labels": false, "titleFontStyle": "italic", "titleX": 89, "titleY": 12, "titleBaseline": "middle", "titleAlign": "center"}}}}
      ]
    },
    {
      "width": 150, "height": 98,
      "title": {"text": "(h)", "dx": -38, "dy": 15},
      "resolve": {"scale": {"x": "independent"}, "axis": {"x": "independent"}},
      "layer": [
        {"layer": [
          {"data": {"name": "h"}, "mark": {"type": "bar", "stroke": "black", "strokeWidth": 1},
           "encoding": {
             "x": {"field": "dose", "type": "nominal", "title": null, "scale": {"domain": ["Uninf.", "1", "5", "10"], "range": [0, 146], "paddingInner": 0.3, "paddingOuter": 0.12},
                   "axis": {"ticks": false, "tickSize": 0, "labelPadding": 13, "labelBaseline": "middle", "labelAngle": 0, "labelOverlap": false, "labelExpr": "datum.value == '10' ? '10\u00a0\u00a0(MOI)' : datum.value", "labelAlign": {"condition": {"test": "datum.value == '10'", "value": "left"}, "value": "center"}, "labelOffset": {"condition": {"test": "datum.value == '10'", "value": -5}, "value": 0}}},
             "xOffset": {"field": "genotype", "type": "nominal", "scale": {"domain": ["WT", "ASC⁻ᐟ⁻", "Casp-1/11⁻ᐟ⁻"], "paddingInner": 0.2}},
             "y": {"field": "mean", "type": "quantitative", "title": "TNF-α (pg/ml)", "scale": {"domain": [0, 3000], "nice": false}, "axis": {"values": [0, 1000, 2000, 3000], "tickCount": 10, "format": "d", "labelOverlap": false, "tickSize": 4, "labelPadding": 2, "titleX": -47, "titleY": 49, "titleBaseline": "middle", "titleAlign": "center"}},
             "fill": {"field": "genotype", "type": "nominal", "scale": {"domain": ["WT", "ASC⁻ᐟ⁻", "Casp-1/11⁻ᐟ⁻"], "range": ["white", "#7f7f7f", "black"]}, "legend": {"title": null, "orient": "none", "legendX": 3, "legendY": 0}}
           }},
          {"data": {"name": "h"}, "mark": {"type": "rule", "color": "black", "strokeWidth": 1.2},
           "encoding": {
             "x": {"field": "dose", "type": "nominal", "title": null, "scale": {"domain": ["Uninf.", "1", "5", "10"], "range": [0, 146], "paddingInner": 0.3, "paddingOuter": 0.12}},
             "xOffset": {"field": "genotype", "type": "nominal", "scale": {"domain": ["WT", "ASC⁻ᐟ⁻", "Casp-1/11⁻ᐟ⁻"], "paddingInner": 0.2}},
             "y": {"field": "mean", "type": "quantitative", "title": "TNF-α (pg/ml)", "scale": {"domain": [0, 3000], "nice": false}},
             "y2": {"field": "upper"}
           }},
          {"data": {"name": "h"}, "mark": {"type": "tick", "orient": "horizontal", "color": "black", "opacity": 1, "thickness": 1.2, "size": 6},
           "encoding": {
             "x": {"field": "dose", "type": "nominal", "title": null, "scale": {"domain": ["Uninf.", "1", "5", "10"], "range": [0, 146], "paddingInner": 0.3, "paddingOuter": 0.12}},
             "xOffset": {"field": "genotype", "type": "nominal", "scale": {"domain": ["WT", "ASC⁻ᐟ⁻", "Casp-1/11⁻ᐟ⁻"], "paddingInner": 0.2}},
             "y": {"field": "upper", "type": "quantitative", "title": "TNF-α (pg/ml)", "scale": {"domain": [0, 3000], "nice": false}}
           }}
        ]},
        {"data": {"values": [{"k": "1"}, {"k": "10"}]}, "mark": {"type": "tick", "opacity": 0},
         "encoding": {"x": {"field": "k", "type": "nominal", "title": "A. baumannii", "scale": {"type": "point", "domain": ["1", "10"], "range": [42, 145]},
           "axis": {"orient": "bottom", "offset": 20, "domain": true, "ticks": false, "labels": false, "titleFontStyle": "italic", "titleX": 89, "titleY": 12, "titleBaseline": "middle", "titleAlign": "center"}}}}
      ]
    }
  ]
}
